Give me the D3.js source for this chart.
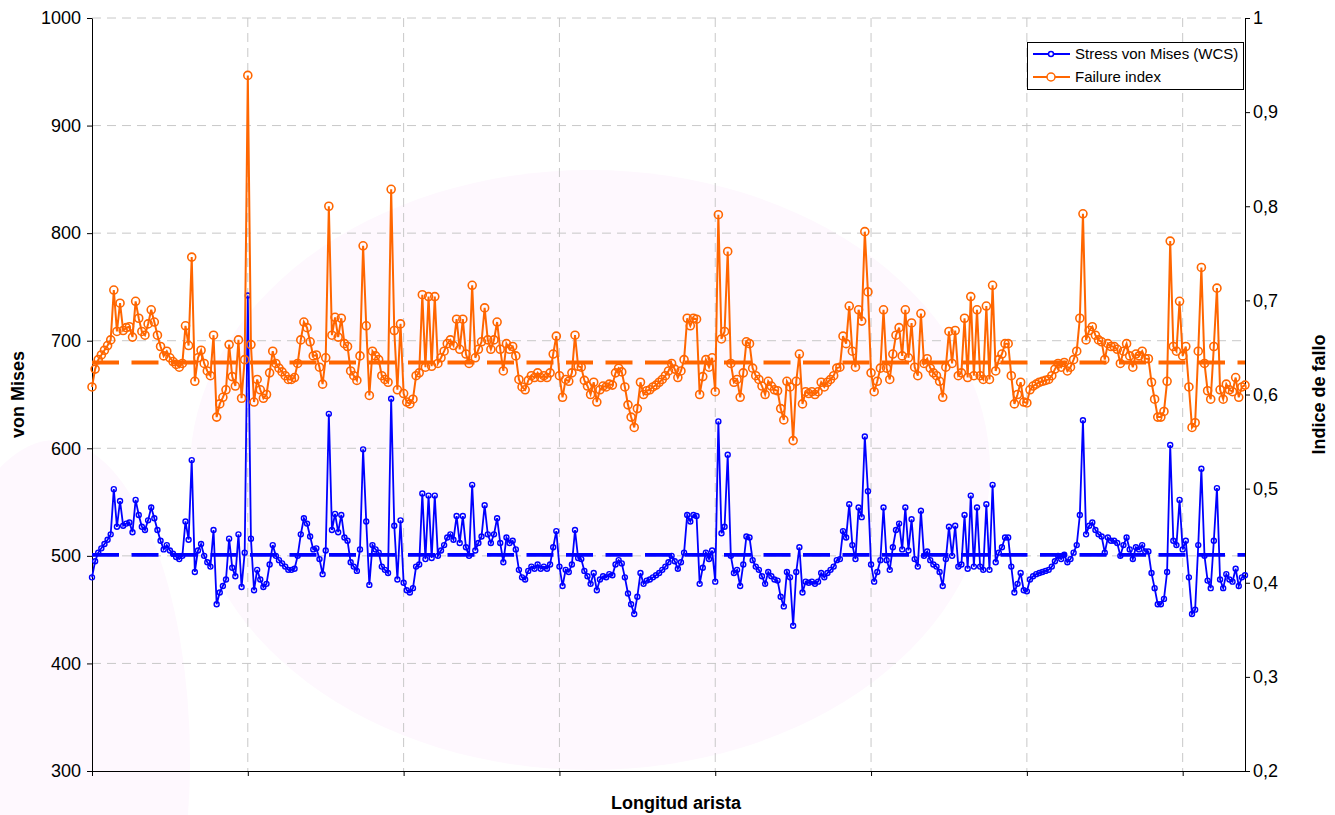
<!DOCTYPE html>
<html>
<head>
<meta charset="utf-8">
<script src="https://cdn.jsdelivr.net/npm/d3@7"></script>
<style>
  body { margin: 0; background: #fff; }
  text { font-family: Arial, "Liberation Sans", sans-serif; }
</style>
</head>
<body>
<div id="chart"></div>
<script>
// values, one per category along the edge
const stress = [
  480, 495, 503, 507, 511, 515, 520, 562, 527, 551,
  528, 530, 531, 522, 552, 538, 527, 524, 533, 545,
  535, 524, 514, 506, 510, 505, 502, 499, 497, 500,
  532, 515, 589, 485, 505, 511, 500, 494, 490, 524,
  455, 466, 472, 478, 516, 489, 481, 520, 471, 503,
  742, 516, 468, 487, 478, 471, 474, 492, 510, 500,
  496, 493, 490, 487, 487, 488, 500, 520, 535, 530,
  518, 506, 507, 497, 483, 505, 632, 524, 539, 522,
  538, 517, 514, 494, 490, 486, 506, 599, 532, 473,
  510, 506, 503, 490, 487, 484, 646, 528, 478, 533,
  475, 468, 466, 470, 490, 492, 558, 497, 556, 498,
  556, 500, 505, 510, 517, 520, 515, 537, 512, 537,
  508, 500, 566, 505, 512, 518, 547, 520, 512, 520,
  535, 512, 494, 517, 512, 514, 506, 487, 480, 478,
  486, 490, 488, 492, 488, 490, 488, 492, 508, 523,
  490, 472, 487, 485, 492, 524, 498, 497, 486, 481,
  474, 484, 468, 478, 481, 480, 483, 482, 492, 496,
  493, 480, 465, 455, 446, 462, 484, 474, 477, 478,
  480, 482, 484, 487, 490, 494, 500, 495, 488, 494,
  503, 538, 532, 538, 537, 474, 489, 503, 497, 505,
  476, 625, 521, 527, 594, 500, 484, 487, 472, 492,
  518, 517, 496, 490, 487, 481, 474, 485, 481, 478,
  477, 462, 453, 485, 480, 435, 485, 508, 466, 476,
  475, 476, 474, 476, 484, 480, 484, 487, 490, 496,
  497, 523, 517, 548, 510, 497, 545, 536, 611, 560,
  492, 476, 485, 496, 545, 496, 487, 508, 524, 530,
  506, 545, 505, 534, 497, 490, 542, 500, 504, 496,
  492, 490, 485, 472, 497, 527, 500, 528, 490, 492,
  538, 488, 556, 490, 545, 490, 487, 548, 487, 566,
  494, 503, 508, 517, 517, 490, 466, 474, 484, 468,
  467, 478, 481, 483, 484, 485, 486, 487, 490, 495,
  500, 497, 501, 494, 497, 503, 510, 538, 626, 520,
  528, 531, 524, 520, 518, 503, 517, 514, 514, 512,
  500, 510, 517, 506, 497, 508, 506, 510, 504, 504,
  484, 470, 455, 455, 460, 485, 603, 514, 510, 552,
  506, 514, 480, 446, 450, 510, 581, 500, 477, 470,
  514, 563, 478, 470, 483, 478, 476, 488, 472, 480,
  482
];

const failure = [
  0.608, 0.627, 0.637, 0.642, 0.647, 0.652, 0.658, 0.711, 0.667, 0.697,
  0.668, 0.671, 0.672, 0.661, 0.699, 0.681, 0.667, 0.663, 0.675, 0.690,
  0.677, 0.663, 0.651, 0.641, 0.646, 0.639, 0.635, 0.632, 0.629, 0.633,
  0.673, 0.652, 0.746, 0.614, 0.639, 0.647, 0.633, 0.625, 0.620, 0.663,
  0.576, 0.590, 0.597, 0.605, 0.653, 0.619, 0.609, 0.658, 0.596, 0.637,
  0.939, 0.653, 0.592, 0.616, 0.605, 0.596, 0.600, 0.623, 0.646, 0.633,
  0.628, 0.624, 0.620, 0.616, 0.616, 0.618, 0.633, 0.658, 0.677, 0.671,
  0.656, 0.641, 0.642, 0.629, 0.611, 0.639, 0.800, 0.663, 0.682, 0.661,
  0.681, 0.654, 0.651, 0.625, 0.620, 0.615, 0.641, 0.758, 0.673, 0.599,
  0.646, 0.641, 0.637, 0.620, 0.616, 0.613, 0.818, 0.668, 0.605, 0.675,
  0.601, 0.592, 0.590, 0.595, 0.620, 0.623, 0.706, 0.629, 0.704, 0.630,
  0.704, 0.633, 0.639, 0.646, 0.654, 0.658, 0.652, 0.680, 0.648, 0.680,
  0.643, 0.633, 0.716, 0.639, 0.648, 0.656, 0.692, 0.658, 0.648, 0.658,
  0.677, 0.648, 0.625, 0.654, 0.648, 0.651, 0.641, 0.616, 0.608, 0.605,
  0.615, 0.620, 0.618, 0.623, 0.618, 0.620, 0.618, 0.623, 0.643, 0.662,
  0.620, 0.597, 0.616, 0.614, 0.623, 0.663, 0.630, 0.629, 0.615, 0.609,
  0.600, 0.613, 0.592, 0.605, 0.609, 0.608, 0.611, 0.610, 0.623, 0.628,
  0.624, 0.608, 0.589, 0.576, 0.565, 0.585, 0.613, 0.600, 0.604, 0.605,
  0.608, 0.610, 0.613, 0.616, 0.620, 0.625, 0.633, 0.627, 0.618, 0.625,
  0.637, 0.681, 0.673, 0.681, 0.680, 0.600, 0.619, 0.637, 0.629, 0.639,
  0.603, 0.791, 0.659, 0.667, 0.752, 0.633, 0.613, 0.616, 0.597, 0.623,
  0.656, 0.654, 0.628, 0.620, 0.616, 0.609, 0.600, 0.614, 0.609, 0.605,
  0.604, 0.585, 0.573, 0.614, 0.608, 0.551, 0.614, 0.643, 0.590, 0.603,
  0.601, 0.603, 0.600, 0.603, 0.613, 0.608, 0.613, 0.616, 0.620, 0.628,
  0.629, 0.662, 0.654, 0.694, 0.646, 0.629, 0.690, 0.678, 0.773, 0.709,
  0.623, 0.603, 0.614, 0.628, 0.690, 0.628, 0.616, 0.643, 0.663, 0.671,
  0.641, 0.690, 0.639, 0.676, 0.629, 0.620, 0.686, 0.633, 0.638, 0.628,
  0.623, 0.620, 0.614, 0.597, 0.629, 0.667, 0.633, 0.668, 0.620, 0.623,
  0.681, 0.618, 0.704, 0.620, 0.690, 0.620, 0.616, 0.694, 0.616, 0.716,
  0.625, 0.637, 0.643, 0.654, 0.654, 0.620, 0.590, 0.600, 0.613, 0.592,
  0.591, 0.605, 0.609, 0.611, 0.613, 0.614, 0.615, 0.616, 0.620, 0.627,
  0.633, 0.629, 0.634, 0.625, 0.629, 0.637, 0.646, 0.681, 0.792, 0.658,
  0.668, 0.672, 0.663, 0.658, 0.656, 0.637, 0.654, 0.651, 0.651, 0.648,
  0.633, 0.646, 0.654, 0.641, 0.629, 0.643, 0.641, 0.646, 0.638, 0.638,
  0.613, 0.595, 0.576, 0.576, 0.582, 0.614, 0.763, 0.651, 0.646, 0.699,
  0.641, 0.651, 0.608, 0.565, 0.570, 0.646, 0.735, 0.633, 0.604, 0.595,
  0.651, 0.713, 0.605, 0.595, 0.611, 0.605, 0.603, 0.618, 0.597, 0.608,
  0.610
];

// the two dashed reference levels
const stressMean = 501;
const failureMean = 0.634;

const leftTicks = [300, 400, 500, 600, 700, 800, 900, 1000];
const rightTicks = [0.2, 0.3, 0.4, 0.5, 0.6, 0.7, 0.8, 0.9, 1];
const xTicks = [0, 50, 100, 150, 200, 250, 300, 350];
const seriesNames = ["Stress von Mises (WCS)", "Failure index"];

const blue = "#0000ff";
const orange = "#ff6600";

const margin = { top: 18, right: 90, bottom: 44, left: 92 };
const width = 1335 - margin.left - margin.right;
const height = 815 - margin.top - margin.bottom;

const root = d3.select("#chart").append("svg")
    .attr("width", 1335)
    .attr("height", 815);

// faint pink watermark behind the chart
root.append("ellipse")
    .attr("cx", 590).attr("cy", 470)
    .attr("rx", 400).attr("ry", 300)
    .style("fill", "#fef8fe");
root.append("ellipse")
    .attr("cx", 55).attr("cy", 760)
    .attr("rx", 135).attr("ry", 320)
    .style("fill", "#fef8fe");

const svg = root.append("g")
    .attr("transform", "translate(" + margin.left + "," + margin.top + ")");

const x = d3.scaleLinear().domain([0, stress.length - 1]).range([0, width]);
const yL = d3.scaleLinear().domain([300, 1000]).range([height, 0]);
const yR = d3.scaleLinear().domain([0.2, 1]).range([height, 0]);

// grid
svg.append("g")
    .selectAll("line")
    .data(leftTicks.slice(1))
    .enter().append("line")
    .attr("x1", 0).attr("x2", width)
    .attr("y1", d => yL(d)).attr("y2", d => yL(d))
    .style("stroke", "#c8c8c8")
    .style("stroke-dasharray", "9,6");

svg.append("g")
    .selectAll("line")
    .data(xTicks.slice(1))
    .enter().append("line")
    .attr("x1", d => x(d)).attr("x2", d => x(d))
    .attr("y1", 0).attr("y2", height)
    .style("stroke", "#c8c8c8")
    .style("stroke-dasharray", "9,6");

// axes
const leftAxis = svg.append("g")
    .call(d3.axisLeft(yL).tickValues(leftTicks).tickFormat(d3.format("d"))
        .tickSize(5).tickSizeOuter(0).tickPadding(6));

const rightAxis = svg.append("g")
    .attr("transform", "translate(" + width + ",0)")
    .call(d3.axisRight(yR).tickValues(rightTicks).tickSize(5).tickSizeOuter(0).tickPadding(3)
        .tickFormat(d => d === 1 ? "1" : d3.format(".1f")(d).replace(".", ",")));

const bottomAxis = svg.append("g")
    .attr("transform", "translate(0," + height + ")")
    .call(d3.axisBottom(x).tickValues(xTicks).tickFormat("").tickSize(5).tickSizeOuter(0));

[leftAxis, rightAxis, bottomAxis].forEach(g => {
    g.select(".domain").style("stroke", "#000").style("stroke-width", 1);
    g.selectAll(".tick line").style("stroke", "#000");
    g.selectAll(".tick text")
        .style("font-size", "18px")
        .style("fill", "#000")
        .style("font-family", "Arial, 'Liberation Sans', sans-serif");
});

// dashed reference levels
svg.append("line")
    .attr("x1", 0).attr("x2", width)
    .attr("y1", yL(stressMean)).attr("y2", yL(stressMean))
    .style("stroke", blue)
    .style("stroke-width", 3.8)
    .style("stroke-dasharray", "27,12.5");

svg.append("line")
    .attr("x1", 0).attr("x2", width)
    .attr("y1", yR(failureMean)).attr("y2", yR(failureMean))
    .style("stroke", orange)
    .style("stroke-width", 3.8)
    .style("stroke-dasharray", "27,12.5");

// series
const stressLine = d3.line()
    .x((d, i) => x(i))
    .y(d => yL(d));

const failureLine = d3.line()
    .x((d, i) => x(i))
    .y(d => yR(d));

svg.append("path")
    .datum(stress)
    .attr("d", stressLine)
    .style("fill", "none")
    .style("stroke", blue)
    .style("stroke-width", 1.8);

svg.append("g")
    .selectAll("circle")
    .data(stress)
    .enter().append("circle")
    .attr("cx", (d, i) => x(i))
    .attr("cy", d => yL(d))
    .attr("r", 2.5)
    .style("fill", "none")
    .style("stroke", blue)
    .style("stroke-width", 1.4);

svg.append("path")
    .datum(failure)
    .attr("d", failureLine)
    .style("fill", "none")
    .style("stroke", orange)
    .style("stroke-width", 2);

svg.append("g")
    .selectAll("circle")
    .data(failure)
    .enter().append("circle")
    .attr("cx", (d, i) => x(i))
    .attr("cy", d => yR(d))
    .attr("r", 4)
    .style("fill", "none")
    .style("stroke", orange)
    .style("stroke-width", 1.6);

// axis titles
root.append("text")
    .attr("x", 676)
    .attr("y", 809)
    .attr("text-anchor", "middle")
    .style("font-size", "18px")
    .style("font-weight", "bold")
    .text("Longitud arista");

root.append("text")
    .attr("transform", "translate(24," + (margin.top + height / 2) + ") rotate(-90)")
    .attr("text-anchor", "middle")
    .style("font-size", "18px")
    .style("font-weight", "bold")
    .text("von Mises");

root.append("text")
    .attr("transform", "translate(1325," + (margin.top + height / 2) + ") rotate(-90)")
    .attr("text-anchor", "middle")
    .style("font-size", "18px")
    .style("font-weight", "bold")
    .text("Indice de fallo");

// legend
const legend = root.append("g");
legend.append("rect")
    .attr("x", 1027.5).attr("y", 42.5)
    .attr("width", 216).attr("height", 47)
    .style("fill", "#fff")
    .style("stroke", "#000");

const legendRows = [
    { name: seriesNames[0], color: blue, r: 2.5, y: 54 },
    { name: seriesNames[1], color: orange, r: 4, y: 77 }
];

legendRows.forEach(row => {
    legend.append("line")
        .attr("x1", 1033).attr("x2", 1070)
        .attr("y1", row.y).attr("y2", row.y)
        .style("stroke", row.color)
        .style("stroke-width", 1.8);
    legend.append("circle")
        .attr("cx", 1051).attr("cy", row.y)
        .attr("r", row.r)
        .style("fill", "#fff")
        .style("stroke", row.color)
        .style("stroke-width", 1.5);
    legend.append("text")
        .attr("x", 1075).attr("y", row.y + 5)
        .style("font-size", "15px")
        .text(row.name);
});
</script>
</body>
</html>
